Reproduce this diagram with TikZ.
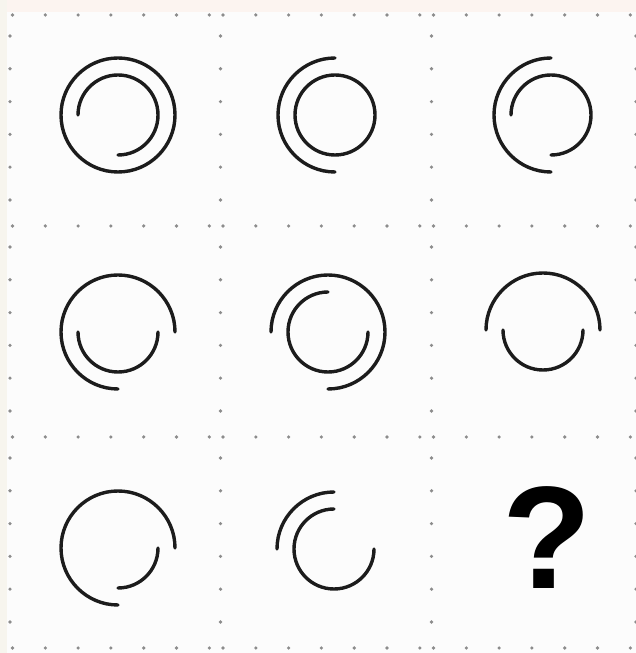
\documentclass[tikz,border=0pt]{standalone}
\usepackage{fontspec}
\newfontfamily\qfont{Liberation Sans}
\definecolor{ink}{rgb}{0.11,0.11,0.11}
\definecolor{dotc}{rgb}{0.55,0.55,0.55}
\definecolor{bgc}{rgb}{0.988,0.988,0.988}
\definecolor{topband}{rgb}{0.99,0.955,0.94}
\definecolor{leftband}{rgb}{0.97,0.96,0.935}
\begin{document}
\begin{tikzpicture}[x=1pt,y=1pt,
  curve/.style={draw=ink,line width=3.4pt,line cap=round},
  gridline/.style={draw=dotc,line width=3.6pt,line cap=round,dash pattern=on 0pt off 32.8pt},
  qmark/.style={font=\qfont\bfseries\fontsize{146}{146}\selectfont,text=black,inner sep=0pt}]
\useasboundingbox (0,0) rectangle (636,653);
\fill[bgc] (0,0) rectangle (636,653);
\fill[topband] (0,641) rectangle (636,653);
\fill[leftband] (0,0) rectangle (7,653);
% dotted grid
\foreach \y in {638,427,216,5}{
  \foreach \x in {12.5,223,433.5}{
    \draw[gridline] (\x,\y) -- ++(197,0);
  }
}
\foreach \x in {10,220.5,431.5,636}{
  \foreach \y in {617,406,195}{
    \draw[gridline] (\x,\y) -- ++(0,-165);
  }
}
% centres
\coordinate (c1) at (118,538);
\coordinate (c2) at (335,538);
\coordinate (c3) at (551,538);
\coordinate (c4) at (118,321);
\coordinate (c5) at (328,321);
\coordinate (c6) at (543,323);
\coordinate (c7) at (118,105);
\coordinate (c8) at (334,104);
\def\ro{57}
\def\ri{40}
% row 1
\draw[curve] (c1) circle[radius=\ro];
\draw[curve] (c1) ++(-90:\ri) arc[start angle=-90,end angle=180,radius=\ri];
\draw[curve] (c2) ++(90:\ro) arc[start angle=90,end angle=270,radius=\ro];
\draw[curve] (c2) circle[radius=\ri];
\draw[curve] (c3) ++(90:\ro) arc[start angle=90,end angle=270,radius=\ro];
\draw[curve] (c3) ++(-90:\ri) arc[start angle=-90,end angle=180,radius=\ri];
% row 2
\draw[curve] (c4) ++(0:\ro) arc[start angle=0,end angle=270,radius=\ro];
\draw[curve] (c4) ++(180:\ri) arc[start angle=180,end angle=360,radius=\ri];
\draw[curve] (c5) ++(-90:\ro) arc[start angle=-90,end angle=180,radius=\ro];
\draw[curve] (c5) ++(90:\ri) arc[start angle=90,end angle=360,radius=\ri];
\draw[curve] (c6) ++(0:\ro) arc[start angle=0,end angle=180,radius=\ro];
\draw[curve] (c6) ++(180:\ri) arc[start angle=180,end angle=360,radius=\ri];
% row 3
\draw[curve] (c7) ++(0:\ro) arc[start angle=0,end angle=270,radius=\ro];
\draw[curve] (c7) ++(270:\ri) arc[start angle=270,end angle=360,radius=\ri];
\draw[curve] (c8) ++(90:\ro) arc[start angle=90,end angle=180,radius=\ro];
\draw[curve] (c8) ++(90:\ri) arc[start angle=90,end angle=360,radius=\ri];
\node[qmark] (q) at (547,115.5) {?};
\end{tikzpicture}
\end{document}
